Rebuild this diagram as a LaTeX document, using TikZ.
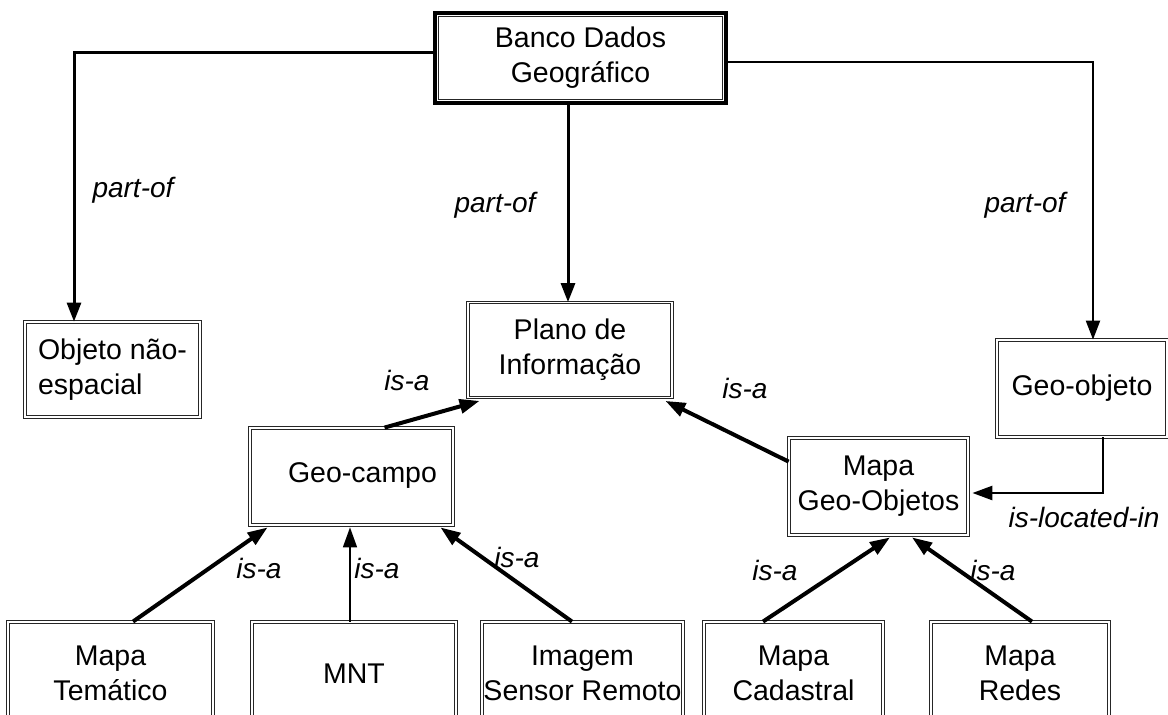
\documentclass[tikz,border=0pt]{standalone}
\usepackage{fontspec}
\setmainfont{Liberation Sans}
\usetikzlibrary{arrows.meta,positioning}
\tikzset{
myBox/.style={
	rectangle, draw=black!85, line width=0.8pt,
	double, double distance=1.6pt,
	inner sep=0pt, align=center, text=black,
	font=\fontsize{28.5}{35}\selectfont
}
, myRoot/.style={
	rectangle, draw=black, line width=4pt,
	inner sep=0pt, align=center, text=black,
	font=\fontsize{28.5}{35}\selectfont,
	path picture = {
		\draw[black!85, line width=0.8pt]
		([shift={(3.5pt,3.5pt)}]path picture bounding box.south west) rectangle
		([shift={(-3.5pt,-3.5pt)}]path picture bounding box.north east);
	}
}
, myLabel/.style={font=\fontsize{28}{35}\selectfont\itshape, inner sep=0pt}
% links
, myPartOf/.style={-{Triangle[length=19pt,width=14pt]}, line width=3pt}
, myIsA/.style={-{Triangle[length=20pt,width=14pt]}, line width=4pt}
, myIsAThin/.style={-{Triangle[length=20pt,width=14pt]}, line width=1.6pt}
, myLocated/.style={-{Triangle[length=20pt,width=14pt]}, line width=2.5pt}
}
\begin{document}
\begin{tikzpicture}[x=1pt,y=-1pt]
	\clip (0,0) rectangle (1168,715);
	% nodes
	\node[myRoot, minimum width=291pt, minimum height=90pt] (Banco) at (580.5,58) {Banco Dados\\Geográfico};
	\node[myBox, minimum width=175pt, minimum height=95pt, align=left] (Objeto) at (112.5,369.5) {Objeto não-\\espacial};
	\node[myBox, minimum width=204pt, minimum height=95pt] (Plano) at (570,350) {Plano de\\Informação};
	\node[myBox, minimum width=203pt, minimum height=97pt] (GeoCampo) at (351.5,476.5) {\raisebox{8pt}{\hspace*{22pt}Geo-campo}};
	\node[myBox, minimum width=170pt, minimum height=97pt] (GeoObjeto) at (1082,388.5) {Geo-objeto};
	\node[myBox, minimum width=179pt, minimum height=97pt] (MapaGeo) at (878.5,486.5) {Mapa\\Geo-Objetos};
	% bottom row
	\node[myBox, minimum width=205pt, minimum height=103pt] (Tematico) at (110.5,673.5) {Mapa\\Temático};
	\node[myBox, minimum width=204pt, minimum height=103pt] (MNT) at (354,673.5) {MNT};
	\node[myBox, minimum width=201pt, minimum height=103pt] (Imagem) at (582.5,673.5) {Imagem\\Sensor Remoto};
	\node[myBox, minimum width=179pt, minimum height=103pt] (Cadastral) at (793.5,673.5) {Mapa\\Cadastral};
	\node[myBox, minimum width=178pt, minimum height=103pt] (Redes) at (1020,673.5) {Mapa\\Redes};

	% part-of
	\draw [myPartOf] ([yshift=6pt]Banco.west) -| ([xshift=-38.5pt]Objeto.north);
	\draw [myPartOf] ([xshift=-2pt]Plano.north |- Banco.south) -- ([xshift=-2pt]Plano.north);
	\draw [myPartOf, line width=2.2pt] ([yshift=-4pt]Banco.east) -| ([xshift=11pt]GeoObjeto.north);
	\node[myLabel] (PartOfA) at (133,190) {part-of};
	\node[myLabel] (PartOfB) at (495,205) {part-of};
	\node[myLabel] (PartOfC) at (1025,205) {part-of};

	% is-a
	\draw [myIsA] ([xshift=33pt]GeoCampo.north) -- ([xshift=12pt,yshift=-3pt]Plano.south west);
	\draw [myIsA] ([yshift=-24pt]MapaGeo.north west) -- ([xshift=-7pt,yshift=-3pt]Plano.south east);
	\draw [myIsA] ([xshift=22.5pt]Tematico.north) -- ([xshift=18pt,yshift=-2pt]GeoCampo.south west);
	\draw [myIsAThin] ([xshift=-4pt]MNT.north) -- ([xshift=-4pt,yshift=-2pt]MNT.north |- GeoCampo.south);
	\draw [myIsA] ([xshift=-10.5pt]Imagem.north) -- ([xshift=-13pt,yshift=-2pt]GeoCampo.south east);
	\draw [myIsA] ([xshift=-30.5pt]Cadastral.north) -- ([xshift=11.5pt,yshift=-2pt]MapaGeo.south);
	\draw [myIsA] ([xshift=12pt]Redes.north) -- ([xshift=33.5pt,yshift=-2pt]MapaGeo.south);
	\node[myLabel] (IsAPlanoL) at (407,380) {is-a};
	\node[myLabel] (IsAPlanoR) at (745,388) {is-a};
	\node[myLabel] (IsATematico) at (259,568) {is-a};
	\node[myLabel] (IsAMNT) at (377,568) {is-a};
	\node[myLabel] (IsAImagem) at (517,557) {is-a};
	\node[myLabel] (IsACadastral) at (775,570) {is-a};
	\node[myLabel] (IsARedes) at (993,570) {is-a};

	% is-located-in
	\draw [myLocated] ([xshift=21pt]GeoObjeto.south) |- ([xshift=4pt,yshift=-6.5pt]MapaGeo.east);
	\node[myLabel] (Located) at (1084,517) {is-located-in};
\end{tikzpicture}
\end{document}
